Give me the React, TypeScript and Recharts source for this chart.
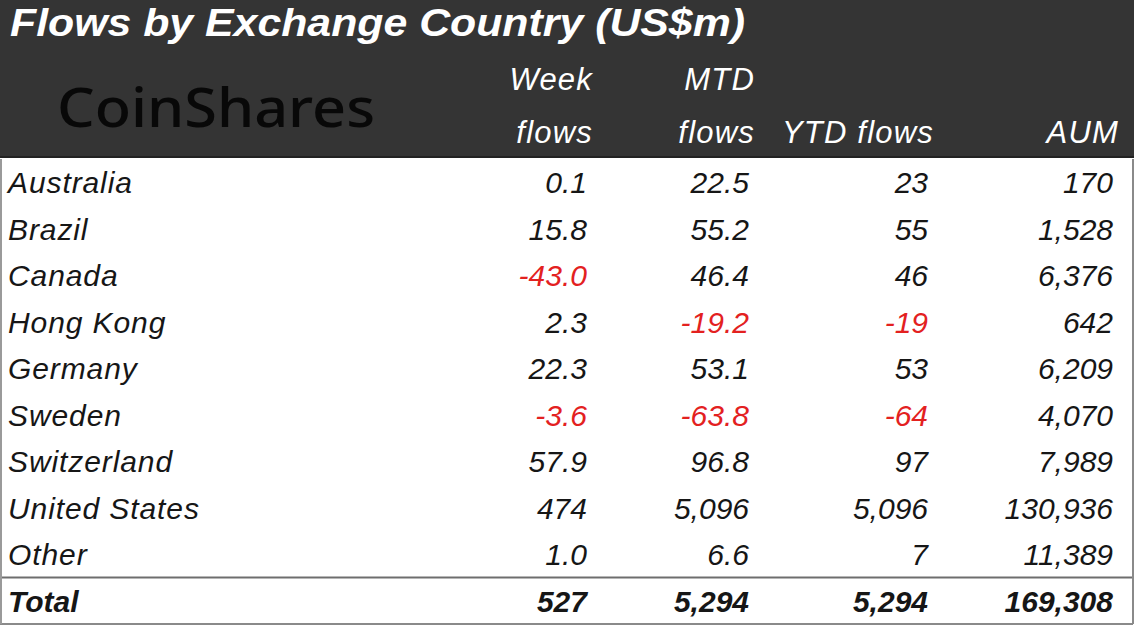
import React from 'react';
import { ScatterChart, Scatter, XAxis, YAxis, ReferenceLine, Customized } from 'recharts';

// ---------- data ----------
const countries = ['Australia', 'Brazil', 'Canada', 'Hong Kong', 'Germany', 'Sweden', 'Switzerland', 'United States', 'Other', 'Total'];
const weekFlows = [0.1, 15.8, -43.0, 2.3, 22.3, -3.6, 57.9, 474, 1.0, 527];
const mtdFlows = [22.5, 55.2, 46.4, -19.2, 53.1, -63.8, 96.8, 5096, 6.6, 5294];
const ytdFlows = [23, 55, 46, -19, 53, -64, 97, 5096, 7, 5294];
const aum = [170, 1528, 6376, 642, 6209, 4070, 7989, 130936, 11389, 169308];
const headerLine1 = ['Week', 'MTD', '', ''];
const headerLine2 = ['flows', 'flows', 'YTD flows', 'AUM'];
const title = 'Flows by Exchange Country (US$m)';
const brand = 'CoinShares';

// ---------- layout / style ----------
const W = 1145;
const H = 633;
const HEADER_H = 157;
const TABLE_RIGHT = 1133;
const LABEL_LEFT = 8;
const COL_RIGHT = [587, 749, 928, 1113];
const FONT = '"Liberation Sans", Arial, Helvetica, sans-serif';
const BG_DARK = '#343434';
const INK = '#161616';
const RED = '#e3211f';
const FS = 30;

const columns = [weekFlows, mtdFlows, ytdFlows, aum];
const smallDecimals = [1, 1, 0, 0];

const fmt = (v: number, c: number) => {
  const d = Math.abs(v) < 100 ? smallDecimals[c] : 0;
  return v.toLocaleString('en-US', { minimumFractionDigits: d, maximumFractionDigits: d });
};

const labelData = countries.map((name, i) => ({ x: LABEL_LEFT, y: i, name, total: name === 'Total' }));
const columnData = columns.map((vals, c) =>
  countries.map((name, i) => ({ x: COL_RIGHT[c], y: i, value: vals[i], col: c, total: name === 'Total' }))
);

const CellText = (props: any) => {
  const { cx, cy, payload } = props;
  if (cx == null || cy == null) return null;
  const neg = payload.value < 0;
  return (
    <text
      x={cx}
      y={cy}
      dy={11}
      textAnchor="end"
      fontFamily={FONT}
      fontStyle="italic"
      fontWeight={payload.total ? 'bold' : 'normal'}
      fontSize={FS}
      fill={neg ? RED : INK}
    >
      {fmt(payload.value, payload.col)}
    </text>
  );
};

const CountryText = (props: any) => {
  const { cx, cy, payload } = props;
  if (cx == null || cy == null) return null;
  return (
    <text
      x={cx}
      y={cy}
      dy={11}
      textAnchor="start"
      fontFamily={FONT}
      fontStyle="italic"
      fontWeight={payload.total ? 'bold' : 'normal'}
      fontSize={FS}
      letterSpacing={payload.total ? 0 : 0.9}
      fill={INK}
    >
      {payload.name}
    </text>
  );
};

const Header = () => (
  <g>
    <rect x={0} y={0} width={TABLE_RIGHT + 1} height={HEADER_H} fill={BG_DARK} />
    <line x1={0} x2={TABLE_RIGHT + 1} y1={HEADER_H} y2={HEADER_H} stroke="#222" strokeWidth={2} />
    <text x={10} y={36} fontFamily={FONT} fontStyle="italic" fontWeight="bold" fontSize={38} fill="#ffffff" textLength={735} lengthAdjust="spacingAndGlyphs">
      {title}
    </text>
    <text x={57} y={127} fontFamily='"Noto Sans", "DejaVu Sans", sans-serif' fontWeight={500} fontSize={54} fill="#080808" textLength={318} lengthAdjust="spacingAndGlyphs">
      {brand}
    </text>
    {headerLine1.map((t, c) => (
      <text key={'h1' + c} x={COL_RIGHT[c] + 6} y={90} textAnchor="end" fontFamily={FONT} fontStyle="italic" fontSize={31} letterSpacing={1.2} fill="#ffffff">
        {t}
      </text>
    ))}
    {headerLine2.map((t, c) => (
      <text key={'h2' + c} x={COL_RIGHT[c] + 6} y={143} textAnchor="end" fontFamily={FONT} fontStyle="italic" fontSize={31} letterSpacing={1.2} fill="#ffffff">
        {t}
      </text>
    ))}
  </g>
);

export default function App() {
  return (
    <div style={{ position: 'fixed', left: 0, top: 0, width: W, height: H, background: '#ffffff' }}>
      <ScatterChart width={W} height={H} margin={{ top: 159, right: W - TABLE_RIGHT, bottom: 9, left: 0 }}>
        <Customized component={<Header />} />
        <XAxis type="number" dataKey="x" domain={[0, TABLE_RIGHT]} hide />
        <YAxis type="number" dataKey="y" domain={[-0.5, countries.length - 0.5]} reversed hide />
        <ReferenceLine y={countries.length - 1.5} stroke="#6e6e6e" strokeWidth={2} />
        <ReferenceLine y={countries.length - 0.5} stroke="#8a8a8a" strokeWidth={2} />
        <ReferenceLine x={1} stroke="#9a9a9a" strokeWidth={2} />
        <ReferenceLine x={TABLE_RIGHT} stroke="#8a8a8a" strokeWidth={2} />
        <Scatter data={labelData} isAnimationActive={false} shape={<CountryText />} />
        {columnData.map((d, c) => (
          <Scatter key={c} data={d} isAnimationActive={false} shape={<CellText />} />
        ))}
      </ScatterChart>
    </div>
  );
}
